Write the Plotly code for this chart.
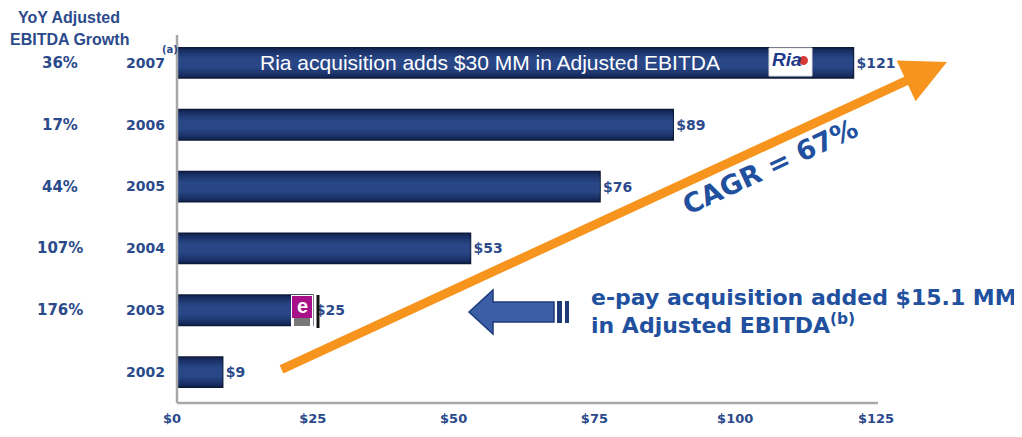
import plotly.graph_objects as go

years = ["2002", "2003", "2004", "2005", "2006", "2007"]
ebitda = [9, 25, 53, 76, 89, 121]
value_labels = ["$9", "$25", "$53", "$76", "$89", "$121"]
yoy_growth = ["", "176%", "107%", "44%", "17%", "36%"]
tick_vals = [0, 25, 50, 75, 100, 125]
tick_text = ["$0", "$25", "$50", "$75", "$100", "$125"]

# page has an 8px body margin, so the figure is drawn 8px smaller
OFF = 8
RW, RH = 1022, 437
W, H = RW - OFF, RH - OFF
L, R, T, B = 172, 876, 32, 403  # plot-area pixel bounds (reference coords)

def px(x, y):
    return (x - L) / (R - L), (B - y) / (B - T)

NAVY = "#15285a"
TXT = "#2b4a8b"
BLUE_BIG = "#21509e"

fig = go.Figure()
fig.add_trace(go.Bar(
    y=years, x=ebitda, orientation="h",
    marker=dict(color=NAVY, line=dict(color="#0c1a38", width=1.5)),
    width=0.49,
    text=value_labels, textposition="outside",
    textfont=dict(family="DejaVu Sans", size=14, color=TXT, weight="bold"),
    cliponaxis=False, hoverinfo="skip",
))
# soft lighter layers to mimic the gradient
for wdt in [0.40, 0.32, 0.24, 0.16]:
    fig.add_trace(go.Bar(
        y=years, x=ebitda, orientation="h",
        marker=dict(color="rgba(70,110,190,0.15)", line=dict(width=0)),
        width=wdt, hoverinfo="skip",
    ))

fig.update_layout(
    width=W, height=H, barmode="overlay",
    margin=dict(l=L - OFF, r=RW - R, t=T - OFF, b=RH - B, autoexpand=False),
    plot_bgcolor="white", paper_bgcolor="white",
    showlegend=False,
    xaxis=dict(range=[0, 125], tickvals=tick_vals, ticktext=tick_text,
               showgrid=False, zeroline=False, showline=False,
               tickfont=dict(family="DejaVu Sans", size=13, color=TXT, weight="bold"),
               ticks="", ticklabelstandoff=6),
    yaxis=dict(type="category", categoryorder="array", categoryarray=years,
               range=[-0.5, 5.5],
               showgrid=False, zeroline=False, showline=False, ticks="",
               tickfont=dict(family="DejaVu Sans", size=14, color=TXT, weight="bold"),
               ticklabelstandoff=6),
)

shapes = []
def pline(xa, ya, xb, yb, color, width):
    x0, y0 = px(xa, ya); x1, y1 = px(xb, yb)
    shapes.append(dict(type="line", xref="paper", yref="paper", x0=x0, y0=y0, x1=x1, y1=y1,
                       line=dict(color=color, width=width)))

def prect(xa, ya, xb, yb, fill, line=None, kind="rect"):
    x0, y0 = px(xa, yb); x1, y1 = px(xb, ya)
    shapes.append(dict(type=kind, xref="paper", yref="paper", x0=x0, y0=y0, x1=x1, y1=y1,
                       fillcolor=fill, line=line or dict(width=0)))

# white strip so bars start just right of the axis line
prect(170, 33, 177, 402, "white")
# axis lines
pline(177, 35, 177, 403, "#a8a8a8", 2.5)
pline(177, 403, 878, 403, "#a8a8a8", 2.5)

# Ria logo
prect(769, 48, 812, 76, "white", dict(color="#dddddd", width=1))
prect(799, 56, 808, 65, "#d83a3a", kind="circle")

# e-pay logo
prect(291, 295, 313, 327, "white")
prect(292, 296, 312, 318, "#a8108a")
prect(294, 318, 310, 326, "#777777")
pline(318, 295, 318, 328, "#111111", 3)

# blue left arrow
pts = [(469, 312), (493, 290), (493, 302), (554, 302), (554, 322), (493, 322), (493, 334)]
path = "M " + " L ".join("%.5f %.5f" % px(a, b) for a, b in pts) + " Z"
shapes.append(dict(type="path", xref="paper", yref="paper", path=path,
                   fillcolor="#3c5ea6", line=dict(color="#1e3a78", width=1.5)))
for xa, xb in [(557, 562), (565, 569)]:
    prect(xa, 301, xb, 323, "#1e3a78")

fig.update_layout(shapes=shapes)

ann = []
def ptext(x, y, text, font, **kw):
    xp, yp = px(x, y)
    d = dict(xref="paper", yref="paper", x=xp, y=yp, text=text, showarrow=False,
             xanchor="center", yanchor="middle", font=font)
    d.update(kw)
    ann.append(d)

hdr_font = dict(family="Liberation Sans", size=16, color=TXT, weight="bold")
ptext(69, 17, "YoY Adjusted", hdr_font)
ptext(69, 39, "EBITDA Growth", hdr_font)

# growth percentages
gx, _ = px(60, 0)
for i, g in enumerate(yoy_growth):
    if g:
        ann.append(dict(xref="paper", yref="y", x=gx, y=i, text=g, showarrow=False,
                        xanchor="center", yanchor="middle",
                        font=dict(family="DejaVu Sans", size=15, color=TXT, weight="bold")))
# (a) superscript
ptext(170, 50, "(a)", dict(family="DejaVu Sans", size=10, color=TXT, weight="bold"))
# text inside 2007 bar
ann.append(dict(xref="paper", yref="y", x=px(490, 0)[0], y=years.index("2007"),
                text="Ria acquisition adds $30 MM in Adjusted EBITDA",
                showarrow=False, xanchor="center", yanchor="middle",
                font=dict(family="Liberation Sans", size=21, color="white")))
# Ria logo text
ptext(787, 60, "<i><b>Ria</b></i>", dict(family="Liberation Sans", size=19, color="#1f3a8a"))
# e logo text
ptext(302, 306, "e", dict(family="Liberation Sans", size=20, color="white", weight="bold"))
# orange CAGR arrow
tx, ty = px(947, 62)
ann.append(dict(xref="paper", yref="paper", x=tx, y=ty, ax=280 - 947, ay=370 - 62,
                showarrow=True, arrowhead=2, arrowsize=1.0, arrowwidth=9,
                arrowcolor="#f7941d", text=""))
# CAGR text
ptext(770, 166, "CAGR = 67%", dict(family="DejaVu Sans", size=27, color=BLUE_BIG, weight="bold"),
      textangle=-25)
# e-pay text
epf = dict(family="DejaVu Sans", size=22, color=BLUE_BIG, weight="bold")
ptext(589, 297, "e-pay acquisition added $15.1 MM", epf, xanchor="left")
ptext(589, 324, "in Adjusted EBITDA<sup>(b)</sup>", epf, xanchor="left")

fig.update_layout(annotations=ann)
fig.write_html("out.html")
